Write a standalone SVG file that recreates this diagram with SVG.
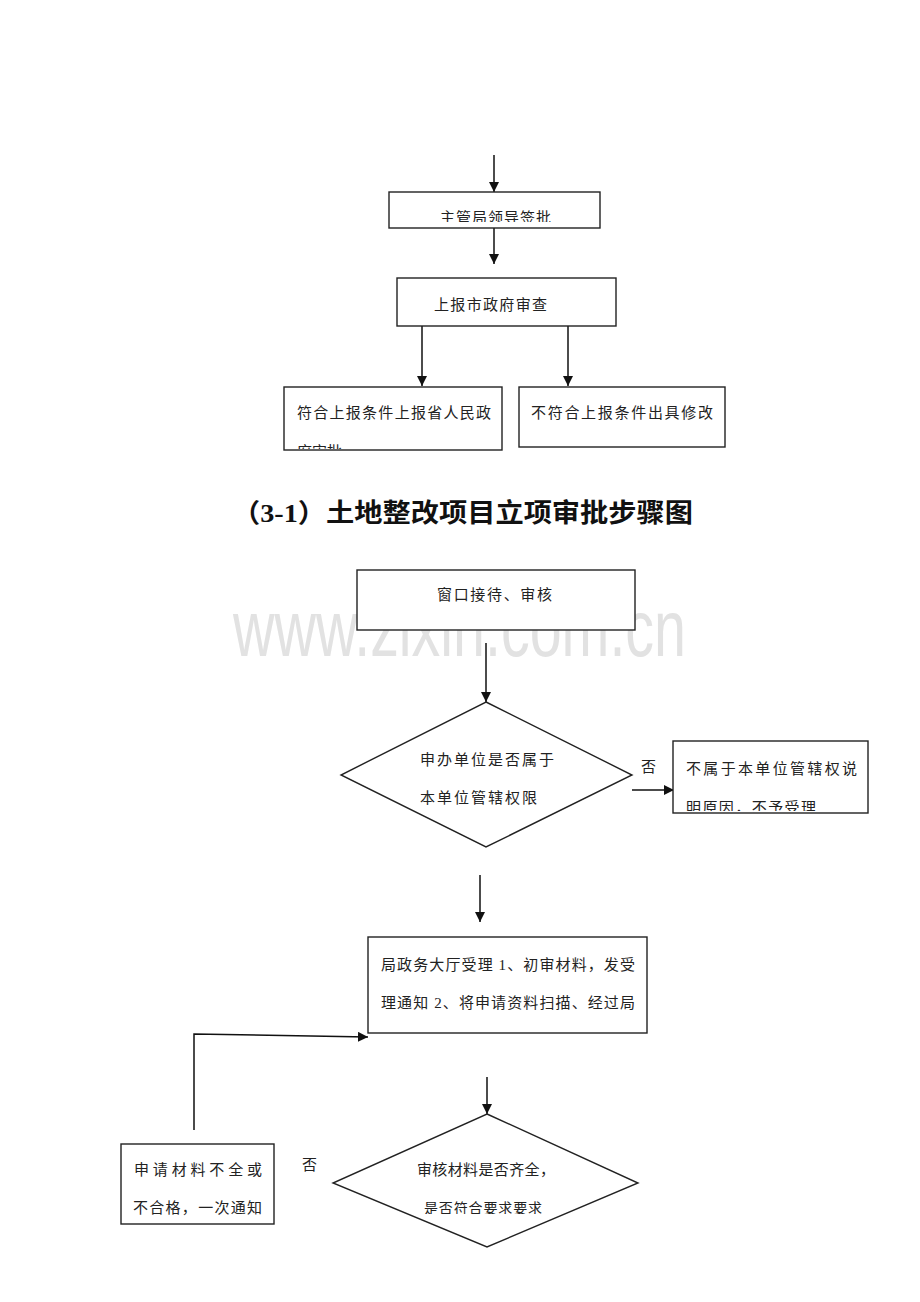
<svg xmlns="http://www.w3.org/2000/svg" width="920" height="1302" viewBox="0 0 920 1302">
<style>
.bx{fill:#fff;stroke:#222;stroke-width:1.4}
.ln{fill:none;stroke:#111;stroke-width:1.5}
.t{font-family:"Liberation Serif","Noto Sans CJK SC",serif;font-size:15px;fill:#222}
.wm{font-family:"Liberation Sans",Arial,sans-serif;font-size:80px;fill:#e2e2e2}
.ttl{font-family:"Liberation Serif","Noto Sans CJK SC",serif;font-size:26px;font-weight:bold;fill:#111}
</style>
<defs>
<marker id="ah" markerUnits="userSpaceOnUse" markerWidth="10" markerHeight="10" refX="10" refY="5" orient="auto"><path d="M0,0 L10,5 L0,10 z" fill="#111"/></marker>
<clipPath id="c1"><rect x="389" y="192" width="211" height="30"/></clipPath>
<clipPath id="c3"><rect x="284" y="387" width="218" height="62"/></clipPath>
<clipPath id="c6"><rect x="673" y="741" width="195" height="70"/></clipPath>
<clipPath id="c9"><rect x="333" y="1114" width="305" height="100"/></clipPath>
</defs>
<rect width="920" height="1302" fill="#fff"/>
<text class="wm" x="233" y="656" textLength="453" lengthAdjust="spacingAndGlyphs">www.zixin.com.cn</text>
<g id="connectors">
<line class="ln" x1="494" y1="155" x2="494" y2="192" marker-end="url(#ah)"/>
<line class="ln" x1="494" y1="228" x2="494" y2="264" marker-end="url(#ah)"/>
<line class="ln" x1="422" y1="326" x2="422" y2="386" marker-end="url(#ah)"/>
<line class="ln" x1="568" y1="326" x2="568" y2="386" marker-end="url(#ah)"/>
<line class="ln" x1="486" y1="643" x2="486" y2="702" marker-end="url(#ah)"/>
<line class="ln" x1="632" y1="790" x2="674" y2="790" marker-end="url(#ah)"/>
<line class="ln" x1="480" y1="875" x2="480" y2="922" marker-end="url(#ah)"/>
<polyline class="ln" points="194,1130 194,1034 368,1037" marker-end="url(#ah)"/>
<line class="ln" x1="487" y1="1077" x2="487" y2="1114" marker-end="url(#ah)"/>
</g>
<g id="n1"><rect class="bx" x="389" y="192" width="211" height="36"/>
<text class="t" x="440" y="223" clip-path="url(#c1)" textLength="111">主管局领导签批</text></g>
<g id="n2"><rect class="bx" x="397" y="278" width="219" height="48"/>
<text class="t" x="434" y="310" textLength="113">上报市政府审查</text></g>
<g id="n3"><rect class="bx" x="284" y="387" width="218" height="63"/>
<g clip-path="url(#c3)"><text class="t" x="297" y="418" textLength="194">符合上报条件上报省人民政</text>
<text class="t" x="297" y="457">府审批</text></g></g>
<g id="n4"><rect class="bx" x="519" y="387" width="206" height="60"/>
<text class="t" x="531" y="418" textLength="182">不符合上报条件出具修改</text></g>
<g id="title"><text class="ttl" x="232" y="522" textLength="461" lengthAdjust="spacingAndGlyphs">（3-1）土地整改项目立项审批步骤图</text></g>
<g id="n5"><rect class="bx" x="357" y="570" width="278" height="60"/>
<text class="t" x="437" y="600" textLength="115">窗口接待、审核</text></g>
<g id="d1"><polygon class="bx" points="486,702 632,775 486,847 341,775"/>
<text class="t" x="420" y="765" textLength="134">申办单位是否属于</text>
<text class="t" x="420" y="803" textLength="117">本单位管辖权限</text></g>
<g id="no1"><text class="t" x="641" y="772">否</text></g>
<g id="n6"><rect class="bx" x="673" y="741" width="195" height="72"/>
<g clip-path="url(#c6)"><text class="t" x="686" y="774" textLength="171">不属于本单位管辖权说</text>
<text class="t" x="686" y="813" textLength="130">明原因，不予受理</text></g></g>
<g id="n7"><rect class="bx" x="368" y="937" width="279" height="96"/>
<text class="t" x="381" y="970" textLength="254">局政务大厅受理 1、初审材料，发受</text>
<text class="t" x="381" y="1008" textLength="254">理通知 2、将申请资料扫描、经过局</text></g>
<g id="d2"><polygon class="bx" points="487,1114 638,1183 487,1247 333,1183"/>
<text class="t" x="417" y="1175" textLength="138">审核材料是否齐全，</text>
<text class="t" x="424" y="1213" clip-path="url(#c9)" style="font-size:14px" textLength="118">是否符合要求要求</text></g>
<g id="no2"><text class="t" x="302" y="1170">否</text></g>
<g id="n8"><rect class="bx" x="121" y="1144" width="153" height="80"/>
<text class="t" x="134" y="1175" textLength="128">申请材料不全或</text>
<text class="t" x="133" y="1213" textLength="129">不合格，一次通知</text></g>
</svg>
